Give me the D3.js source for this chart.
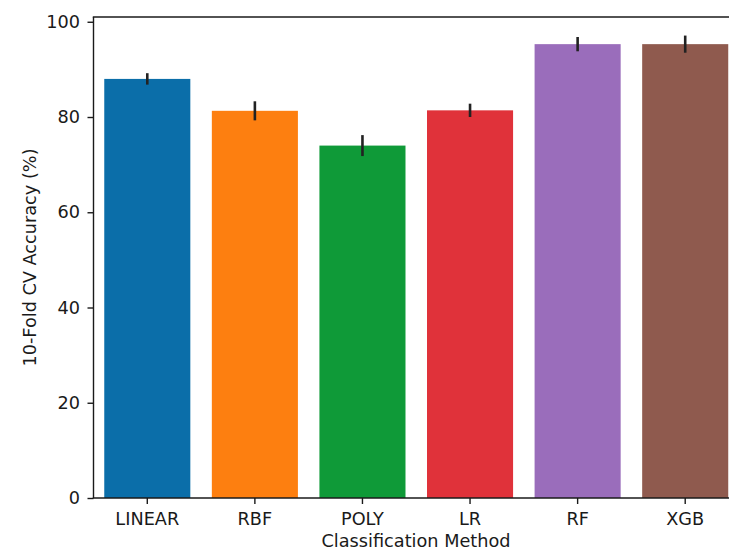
<!DOCTYPE html>
<html>
<head>
<meta charset="utf-8">
<script src="https://cdn.jsdelivr.net/npm/d3@7"></script>
<style>
  html, body { margin: 0; padding: 0; background: #ffffff; }
  svg { display: block; }
  text { font-family: "DejaVu Sans", sans-serif; fill: #1a1a1a; }
</style>
</head>
<body>
<svg id="chart" width="729" height="554"></svg>
<script>
// Classification methods and their 10-fold cross-validation accuracy
const methods = ["LINEAR", "RBF", "POLY", "LR", "RF", "XGB"];
const accuracy = [88.0, 81.3, 74.0, 81.4, 95.3, 95.3];
const accuracyStd = [1.2, 2.0, 2.2, 1.4, 1.5, 1.8];
const barColors = ["#0b6ea9", "#fd7f10", "#0f9a38", "#e0323a", "#9a6dbb", "#8f5a4e"];
const yTicks = [0, 20, 40, 60, 80, 100];

const svg = d3.select("#chart");
const fontSize = 17.7;

// Plot area (the right spine falls just outside the canvas)
const plot = { left: 93.5, right: 739, top: 17, bottom: 498 };

const x = d3.scaleBand()
  .domain(methods)
  .range([plot.left, plot.right])
  .paddingInner(0.2)
  .paddingOuter(0.1);

const y = d3.scaleLinear()
  .domain([0, 101])
  .range([plot.bottom, plot.top]);

// Bars
svg.append("g")
  .selectAll("rect")
  .data(methods)
  .join("rect")
  .attr("x", d => x(d))
  .attr("y", (d, i) => y(accuracy[i]))
  .attr("width", x.bandwidth())
  .attr("height", (d, i) => y(0) - y(accuracy[i]))
  .attr("fill", (d, i) => barColors[i]);

// Error bars (no caps)
svg.append("g")
  .selectAll("line")
  .data(methods)
  .join("line")
  .attr("x1", d => x(d) + x.bandwidth() / 2)
  .attr("x2", d => x(d) + x.bandwidth() / 2)
  .attr("y1", (d, i) => y(accuracy[i] - accuracyStd[i]))
  .attr("y2", (d, i) => y(accuracy[i] + accuracyStd[i]))
  .attr("stroke", "#222")
  .attr("stroke-width", 2.6);

// Axes
const xAxis = d3.axisBottom(x).tickSizeOuter(0).tickSizeInner(6).tickPadding(8);
const yAxis = d3.axisLeft(y).tickValues(yTicks).tickSizeOuter(0).tickSizeInner(6).tickPadding(7.5);

const gx = svg.append("g")
  .attr("transform", `translate(0,${plot.bottom})`)
  .call(xAxis);
const gy = svg.append("g")
  .attr("transform", `translate(${plot.left},0)`)
  .call(yAxis);

[gx, gy].forEach(g => {
  g.select(".domain").remove();
  g.selectAll(".tick line").attr("stroke", "#1a1a1a").attr("stroke-width", 1.4);
  g.selectAll(".tick text").attr("font-size", fontSize).attr("font-family", "DejaVu Sans").attr("fill", "#1a1a1a");
});

// Spines: left, bottom, top
const spine = svg.append("g").attr("stroke", "#1a1a1a").attr("stroke-width", 1.4).attr("fill", "none");
spine.append("line").attr("x1", plot.left).attr("x2", plot.left).attr("y1", plot.top).attr("y2", plot.bottom);
spine.append("line").attr("x1", plot.left - 0.7).attr("x2", plot.right).attr("y1", plot.bottom).attr("y2", plot.bottom);
spine.append("line").attr("x1", plot.left - 0.7).attr("x2", plot.right).attr("y1", plot.top).attr("y2", plot.top);

// Axis titles
svg.append("text")
  .attr("x", 416)
  .attr("y", 546.5)
  .attr("text-anchor", "middle")
  .attr("font-size", fontSize)
  .text("Classification Method");

svg.append("text")
  .attr("transform", `translate(36,${(plot.top + plot.bottom) / 2}) rotate(-90)`)
  .attr("text-anchor", "middle")
  .attr("font-size", fontSize)
  .text("10-Fold CV Accuracy (%)");
</script>
</body>
</html>
